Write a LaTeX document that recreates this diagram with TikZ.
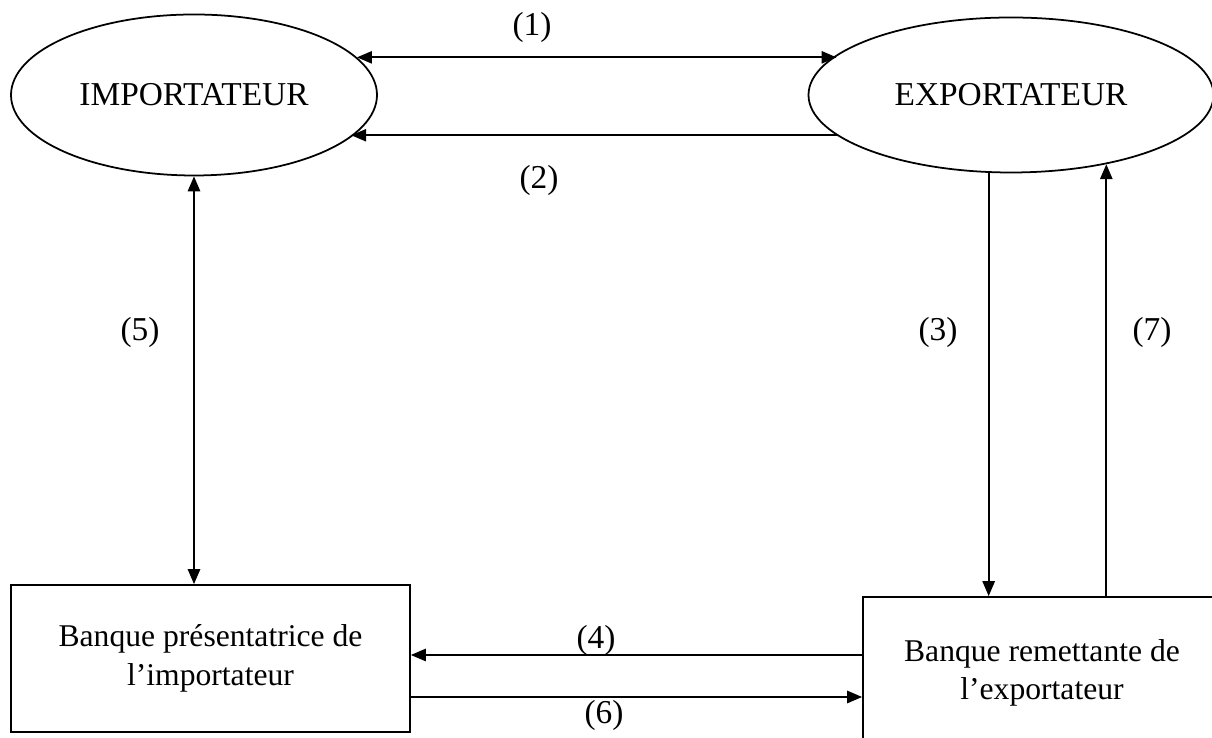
\documentclass[tikz,border=0pt]{standalone}
\usepackage{fontspec}
\setmainfont{Liberation Serif}
\usepackage{tikz}
\usetikzlibrary{shapes.geometric, arrows.meta}

\tikzset{
  party/.style={draw, ellipse, line width=1pt, inner sep=0pt},
  bank/.style={draw, rectangle, line width=1pt, align=center, inner sep=0pt,
    font=\fontsize{18}{22}\selectfont},
  flow/.style={line width=1pt}
}

\begin{document}
\begin{tikzpicture}[>={Triangle[length=8.5pt, width=7pt]},
    font=\fontsize{19}{23}\selectfont]
  \useasboundingbox (0, 0) rectangle (24.24, 14.76);
  \clip (0, 0) rectangle (24.24, 14.76);

  \node[party, minimum width=7.32cm, minimum height=3.22cm] (imp) at (3.88, 12.86) {IMPORTATEUR};
  \node[party, minimum width=8.1cm, minimum height=3.1cm] (exp) at (20.22, 12.86) {EXPORTATEUR};
  \node[bank, minimum width=7.98cm, minimum height=2.94cm] (lbank) at (4.21, 1.59)
    {Banque présentatrice de\\l’importateur};
  \node[bank, minimum width=7.16cm, minimum height=3.04cm] (rbank) at (20.84, 1.30)
    {Banque remettante de\\l’exportateur};

  \draw[flow, <->] (imp.13.7) -- (imp.13.7 -| exp.167.4);
  \draw[flow, ->] (exp.193.4) -- (exp.193.4 -| imp.345.4);
  \draw[flow, ->] (exp.254.2) -- (exp.254.2 |- rbank.north);
  \draw[flow, ->] ([yshift=0.07cm]lbank.east -| rbank.west) -- ([yshift=0.07cm]lbank.east);
  \draw[flow, <->] (imp.south) -- (imp.south |- lbank.north);
  \draw[flow, ->] ([yshift=-0.77cm]lbank.east) -- ([yshift=-0.77cm]lbank.east -| rbank.west);
  \draw[flow, ->] (exp.324.8 |- rbank.north) -- (exp.324.8);

  \node (l1) at (10.64, 14.22) {(1)};
  \node (l2) at (10.78, 11.16) {(2)};
  \node (l3) at (18.76, 8.12) {(3)};
  \node (l4) at (11.92, 1.96) {(4)};
  \node (l5) at (2.8, 8.12) {(5)};
  \node (l6) at (12.08, 0.46) {(6)};
  \node (l7) at (23.04, 8.12) {(7)};
\end{tikzpicture}
\end{document}
